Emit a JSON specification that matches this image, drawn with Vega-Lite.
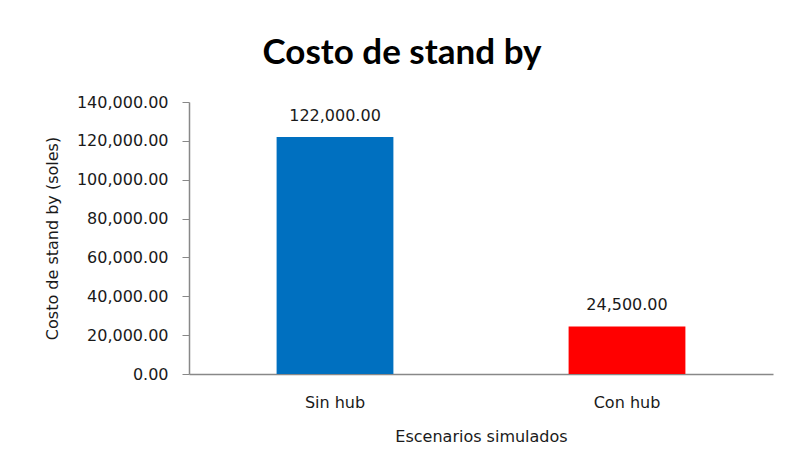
{
  "$schema": "https://vega.github.io/schema/vega-lite/v6.json",
  "autosize": "none",
  "width": 584,
  "height": 272,
  "padding": {"left": 189, "top": 102, "right": 14, "bottom": 95},
  "background": "white",
  "config": {"view": {"stroke": null}, "font": "DejaVu Sans"},
  "title": {
    "text": "Costo de stand by",
    "font": "Lato",
    "fontSize": 35,
    "fontWeight": "bold",
    "color": "#000000",
    "anchor": "middle",
    "dx": -79,
    "offset": 23
  },
  "data": {
    "values": [
      {"escenario": "Sin hub", "costo": 122000},
      {"escenario": "Con hub", "costo": 24500}
    ]
  },
  "encoding": {
    "x": {
      "field": "escenario",
      "type": "nominal",
      "sort": ["Sin hub", "Con hub"],
      "scale": {"paddingInner": 0.6, "paddingOuter": 0.3},
      "axis": {
        "title": "Escenarios simulados",
        "labelAngle": 0,
        "labelFont": "DejaVu Sans",
        "labelFontSize": 16,
        "labelColor": "#1a1a1a",
        "labelPadding": 20,
        "ticks": false,
        "domainColor": "#888888",
        "domainWidth": 1.5,
        "titleFont": "DejaVu Sans",
        "titleFontSize": 16,
        "titleFontWeight": "normal",
        "titleColor": "#1a1a1a",
        "titlePadding": 18
      }
    },
    "y": {
      "field": "costo",
      "type": "quantitative",
      "scale": {"domain": [0, 140000]},
      "axis": {
        "title": "Costo de stand by (soles)",
        "values": [0, 20000, 40000, 60000, 80000, 100000, 120000, 140000],
        "format": ",.2f",
        "grid": false,
        "labelFont": "DejaVu Sans",
        "labelFontSize": 16,
        "labelColor": "#1a1a1a",
        "labelPadding": 14,
        "tickSize": 7,
        "tickColor": "#888888",
        "domainColor": "#888888",
        "domainWidth": 1.5,
        "titleFont": "DejaVu Sans",
        "titleFontSize": 16,
        "titleFontWeight": "normal",
        "titleColor": "#1a1a1a",
        "titlePadding": 16
      }
    }
  },
  "layer": [
    {
      "mark": {"type": "bar"},
      "encoding": {
        "color": {
          "field": "escenario",
          "type": "nominal",
          "scale": {"domain": ["Sin hub", "Con hub"], "range": ["#0070C0", "#FF0000"]},
          "legend": null
        }
      }
    },
    {
      "mark": {"type": "text", "baseline": "alphabetic", "dy": -16, "font": "DejaVu Sans", "fontSize": 16, "color": "#1a1a1a"},
      "encoding": {
        "text": {"field": "costo", "type": "quantitative", "format": ",.2f"}
      }
    }
  ]
}
